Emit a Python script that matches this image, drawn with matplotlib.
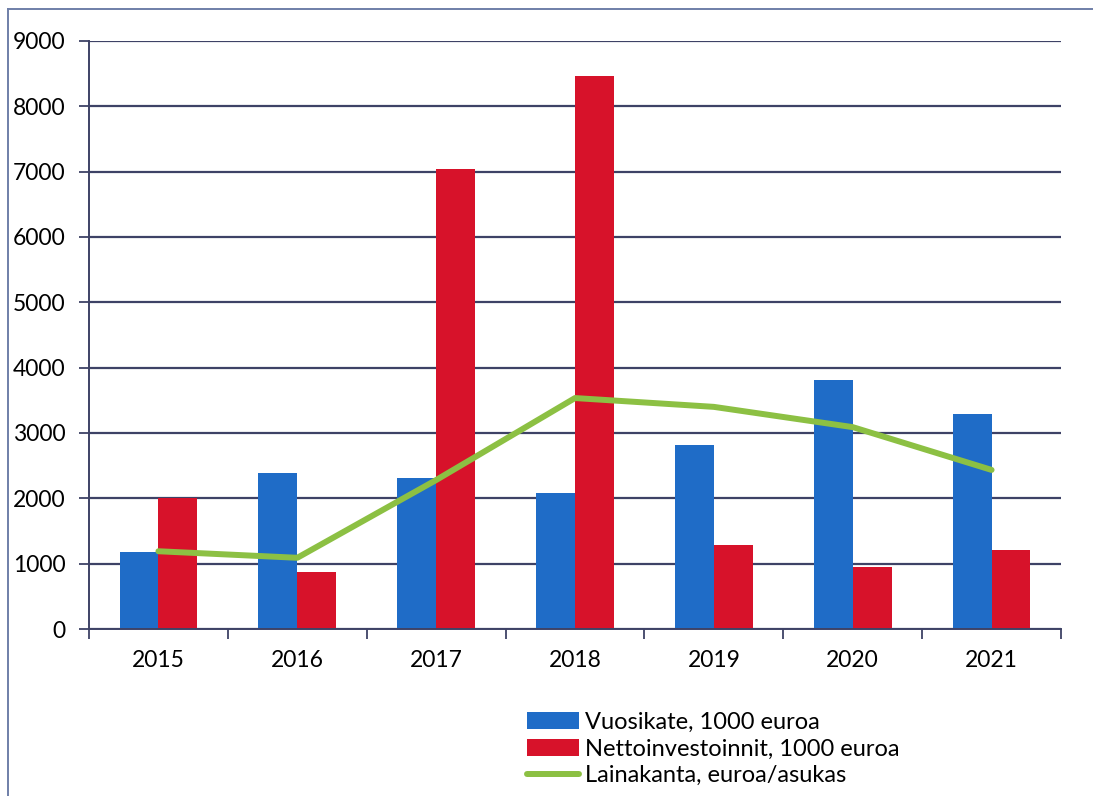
import numpy as np
import matplotlib
matplotlib.use("Agg")
import matplotlib.pyplot as plt
from matplotlib.lines import Line2D

plt.rcParams['font.family'] = ['Lato', 'DejaVu Sans']

years = ["2015", "2016", "2017", "2018", "2019", "2020", "2021"]
vuosikate = [1180, 2390, 2310, 2080, 2820, 3810, 3290]
nettoinv = [2010, 880, 7040, 8470, 1290, 950, 1210]
lainakanta = [1190, 1090, 2280, 3535, 3400, 3090, 2435]

blue = "#1f6cc7"
red = "#d7122a"
green = "#8cc043"
navy = "#3e4266"

fig = plt.figure(figsize=(10.93, 7.96), dpi=100)
ax = fig.add_axes([89/1093, 1-629/796, (1061-89)/1093, (629-41)/796])

x = np.arange(len(years))
w = 0.28
b1 = ax.bar(x - w/2, vuosikate, w, color=blue, label="Vuosikate, 1000 euroa", zorder=2)
b2 = ax.bar(x + w/2, nettoinv, w, color=red, label="Nettoinvestoinnit, 1000 euroa", zorder=2)
l1, = ax.plot(x, lainakanta, color=green, lw=4.3, label="Lainakanta, euroa/asukas", zorder=3,
              solid_capstyle='round')

ax.set_xlim(-0.5, 6.5)
ax.set_ylim(0, 9000)
ax.set_yticks(np.arange(0, 9001, 1000))
ax.yaxis.grid(True, color=navy, lw=1.6, zorder=0)
ax.set_axisbelow(True)

ax.set_xticks(np.arange(-0.5, 7, 1))
ax.set_xticklabels([])
ax.set_xticks(x, minor=True)
ax.set_xticklabels(years, minor=True)
ax.tick_params(axis='x', which='minor', length=0, pad=15, labelsize=16.5)
ax.tick_params(axis='x', which='major', length=7, width=1.3, color=navy)
ax.tick_params(axis='y', length=7, width=1.3, color=navy, pad=10, labelsize=16.5)

for s in ['top', 'right']:
    ax.spines[s].set_visible(False)
for s in ['left', 'bottom']:
    ax.spines[s].set_color(navy)
    ax.spines[s].set_linewidth(1.4)

fig.legend(handles=[b1, b2, l1], loc='upper left', bbox_to_anchor=(527/1093, 1-712/796),
           frameon=False, fontsize=17, handlelength=2.2, handleheight=0.7,
           handletextpad=0.25, labelspacing=0.24, borderpad=0, borderaxespad=0)

# outer frame of the scanned chart
fc = "#6f7fa8"
fig.add_artist(Line2D([8/1093, 8/1093], [0, 1-9/796], color=fc, lw=1.4, transform=fig.transFigure))
fig.add_artist(Line2D([8/1093, 1], [1-9/796, 1-9/796], color=fc, lw=1.4, transform=fig.transFigure))

fig.savefig("out.png", dpi=100)
